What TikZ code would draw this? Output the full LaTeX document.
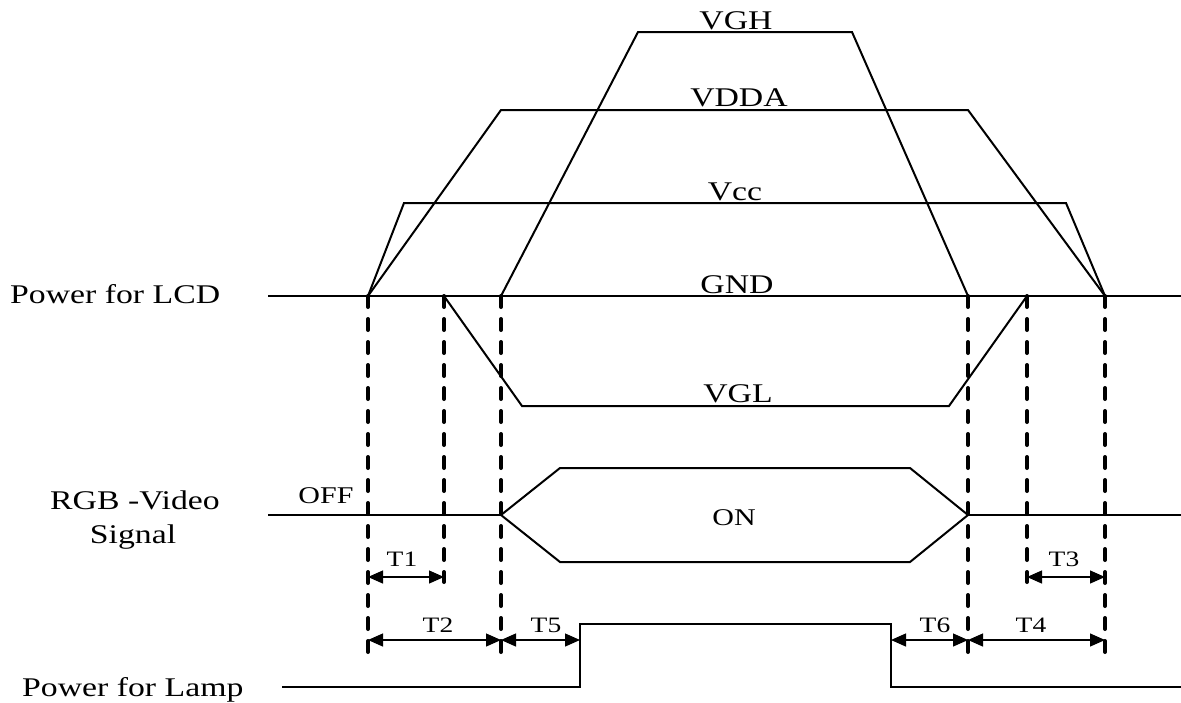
\documentclass[tikz,border=0pt]{standalone}
\usepackage{fontspec}
\setmainfont{Liberation Serif}[FakeStretch=1.25]
\usetikzlibrary{arrows.meta}
\begin{document}
\begin{tikzpicture}[x=1pt,y=-1pt,
  sig/.style={line width=2pt, line join=miter},
  guide/.style={line width=4pt, dash pattern=on 11pt off 12pt, line cap=round},
  dim/.style={line width=1.3pt, {Triangle[length=15pt,width=13pt]}-{Triangle[length=15pt,width=13pt]}},
  lbl/.style={font=\fontsize{27}{31}\selectfont, inner sep=0pt, anchor=base},
  mid/.style={font=\fontsize{24}{28}\selectfont, inner sep=0pt, anchor=base},
  tl/.style={font=\fontsize{22}{26}\selectfont, inner sep=0pt, anchor=base},
]
\useasboundingbox (0,0) rectangle (1181,702);
% key points on GND
\coordinate (A) at (368,296);
\coordinate (B) at (444,296);
\coordinate (C) at (501,296);
\coordinate (D) at (968,296);
\coordinate (E) at (1027,296);
\coordinate (F) at (1105,296);
\coordinate (Ab) at (368,657);
\coordinate (Bb) at (444,582);
\coordinate (Cb) at (501,657);
\coordinate (Db) at (968,657);
\coordinate (Eb) at (1027,582);
\coordinate (Fb) at (1105,657);
% baselines
\coordinate (gndL) at (268,296);
\coordinate (gndR) at (1181,296);
\coordinate (rgbL) at (268,515);
\coordinate (rgbR) at (1181,515);
\coordinate (rgbS) at (501,515);
\coordinate (rgbE) at (968,515);
\coordinate (lampL) at (282,687);
\coordinate (lampR) at (1181,687);
% supply rails
\draw[sig] (C) -- (638,32) -- (852,32) -- (D);
\draw[sig] (A) -- (501,110) -- (968,110) -- (F);
\draw[sig] (A) -- (404,203) -- (1066,203) -- (F);
\draw[sig] (B) -- (522,406) -- (949,406) -- (E);
\draw[sig] (gndL) -- (gndR);
% RGB
\draw[sig] (rgbL) -- (rgbS);
\draw[sig] (rgbE) -- (rgbR);
\draw[sig] (rgbS) -- (560,468) -- (910,468) -- (rgbE) -- (910,562) -- (560,562) -- cycle;
% Lamp
\draw[sig] (lampL) -- (580,687) -- (580,624) -- (891,624) -- (891,687) -- (lampR);
% dashed guides
\foreach \p in {A,B,C,D,E,F}{\draw[guide] (\p) -- (\p b);}
% dimension arrows
\coordinate (t1a) at (368,577); \coordinate (t1b) at (444,577);
\coordinate (t3a) at (1027,577); \coordinate (t3b) at (1105,577);
\coordinate (t2a) at (368,640); \coordinate (t2b) at (501,640);
\coordinate (t5b) at (580,640);
\coordinate (t6a) at (891,640); \coordinate (t6b) at (968,640);
\coordinate (t4b) at (1105,640);
\draw[dim] (t1a) -- (t1b);
\draw[dim] (t3a) -- (t3b);
\draw[dim] (t2a) -- (t2b);
\draw[dim] (t2b) -- (t5b);
\draw[dim] (t6a) -- (t6b);
\draw[dim] (t6b) -- (t4b);
% labels
\node[lbl] (lVGH) at (736,29) {VGH};
\node[lbl] (lVDDA) at (739,106) {VDDA};
\node[lbl] (lVcc) at (735,200) {Vcc};
\node[lbl] (lGND) at (737,293) {GND};
\node[lbl] (lVGL) at (738,402) {VGL};
\node[mid] (lON) at (734,525) {ON};
\node[mid] (lOFF) at (326,503) {OFF};
\node[lbl, anchor=base west] (lLCD) at (10,303) {Power for LCD};
\node[lbl] (lRGB) at (135,509) {RGB -Video};
\node[lbl] (lSig) at (133,543) {Signal};
\node[lbl, anchor=base west] (lLamp) at (22,696) {Power for Lamp};
\node[tl] (lT1) at (402,566) {T1};
\node[tl] (lT2) at (438,632) {T2};
\node[tl] (lT5) at (546,632) {T5};
\node[tl] (lT3) at (1064,566) {T3};
\node[tl] (lT6) at (935,632) {T6};
\node[tl] (lT4) at (1031,632) {T4};
\end{tikzpicture}
\end{document}
